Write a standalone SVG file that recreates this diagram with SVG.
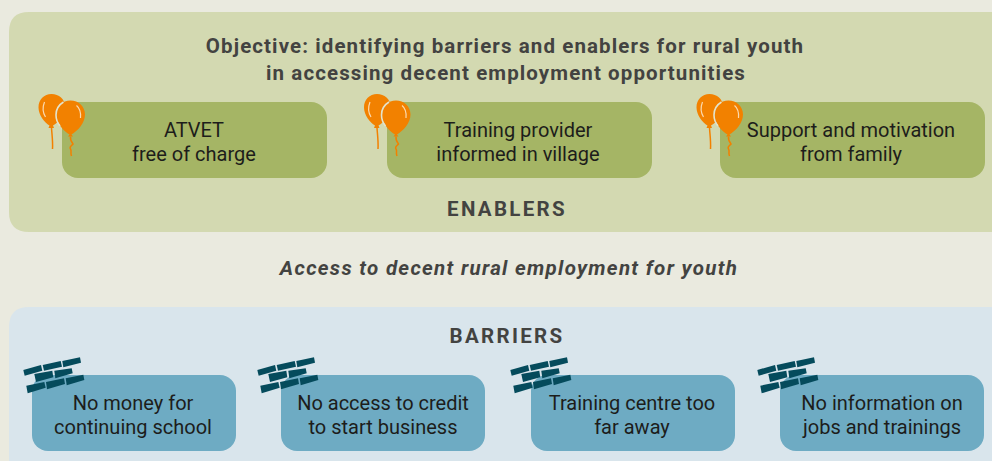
<svg xmlns="http://www.w3.org/2000/svg" width="992" height="461" viewBox="0 0 992 461">
<style>
text{font-family:"Roboto","Liberation Sans",sans-serif;text-anchor:middle;fill:#1d1d1b;font-size:20px}
.h{font-weight:700;fill:#434341;font-size:20.5px;letter-spacing:1.1px}
.c{letter-spacing:2.3px}
.a{font-style:italic;letter-spacing:1.3px}
.b1{fill:#a5b565}
.b2{fill:#6eabc3}
.o{fill:#f28100}
.ol{fill:none;stroke:#f28100;stroke-width:1.5}
.hl{fill:none;stroke:#fbd9ae;stroke-width:1.2}
.sep{fill:none;stroke:#e3e3cc;stroke-width:1.6}
.br{fill:#054b5c}
</style>
<defs>
<g id="balloons">
<path class="o" d="M12 0C4.600 0-1 5.500-1 13.500C-1 21 5 28.500 10 31.500L9 34L14.500 34L13.500 31.500C20 28 25.500 20 25.500 13C25.500 5 19.500 0 12 0Z"/>
<path class="ol" d="M12 34C12.500 41 13.500 48 13 55"/>
<path class="hl" d="M5 8C3 13 3.500 19 6 23"/>
<path class="o" d="M31 6.500C23 6.500 17 12.500 17 21C17 29.500 25 38 30 40.500L28.500 42.500L33.500 42.500L32 40.500C38 37 45.500 29 45.500 20.500C45.500 12.500 39 6.500 31 6.500Z"/>
<path class="sep" d="M24 8C19 11 16.500 16 16.500 21C16.500 25 18 29 20.500 32"/>
<path class="ol" d="M31 42.500C30.500 46 32 48 33.500 50C32 52 29.500 52.500 31 55C32.500 57 30.500 58 32 62"/>
<path class="hl" d="M37 11.500C40 14 41.500 19 41 24"/>
</g>
<g id="wall" class="br">
<path d="M.3 12L18 7L19.300 12.700L1.700 17.700Z"/>
<path d="M19.700 7L37.700 3L39 8.700L21 12.700Z"/>
<path d="M39.300 3L57-.7L58 4.700L40.300 9.300Z"/>
<path d="M11.300 16L29.300 12.700L30.300 19.300L13 24Z"/>
<path d="M31.300 12.700L48.700 10.300L49.700 15.300L32.300 20.300Z"/>
<path d="M3.300 27.700L21.300 24L22.700 29.700L4.700 35.300Z"/>
<path d="M23 24L41 20.300L42 26L24 31.300Z"/>
<path d="M42.700 20.300L60.300 16.700L61.300 22L43.700 27.300Z"/>
</g>
</defs>
<rect width="992" height="461" fill="#eaeadf"/>
<g id="connectors"></g>
<g id="enablers-panel">
<path d="M29 12H992V232H29Q9 232 9 212V32Q9 12 29 12Z" fill="#d3d9b1"/>
<text class="h" x="505" y="53">Objective: identifying barriers and enablers for rural youth</text>
<text class="h" x="506" y="80">in accessing decent employment opportunities</text>
<text class="h c" x="507" y="216">ENABLERS</text>
</g>
<g id="enabler-1">
<rect class="b1" x="62" y="102" width="265" height="76" rx="16"/>
<use href="#balloons" x="39.500" y="94"/>
<text x="194" y="137">ATVET</text><text x="194" y="161">free of charge</text>
</g>
<g id="enabler-2">
<rect class="b1" x="387" y="102" width="265" height="76" rx="16"/>
<use href="#balloons" x="365" y="94"/>
<text x="518" y="137">Training provider</text><text x="518" y="161">informed in village</text>
</g>
<g id="enabler-3">
<rect class="b1" x="720" y="102" width="265" height="76" rx="16"/>
<use href="#balloons" x="697.500" y="94"/>
<text x="851" y="137">Support and motivation</text><text x="851" y="161">from family</text>
</g>
<g id="access-label">
<text class="h a" x="509" y="275">Access to decent rural employment for youth</text>
</g>
<g id="barriers-panel">
<path d="M29 307H992V461H9V327Q9 307 29 307Z" fill="#d9e5ec"/>
<text class="h c" x="507" y="343">BARRIERS</text>
</g>
<g id="barrier-1">
<rect class="b2" x="32" y="375" width="204" height="76" rx="16"/>
<use href="#wall" x="23" y="358"/>
<text x="133" y="410">No money for</text><text x="133" y="434">continuing school</text>
</g>
<g id="barrier-2">
<rect class="b2" x="281" y="375" width="204" height="76" rx="16"/>
<use href="#wall" x="257" y="358"/>
<text x="383" y="410">No access to credit</text><text x="383" y="434">to start business</text>
</g>
<g id="barrier-3">
<rect class="b2" x="531" y="375" width="204" height="76" rx="16"/>
<use href="#wall" x="510" y="358"/>
<text x="632" y="410">Training centre too</text><text x="632" y="434">far away</text>
</g>
<g id="barrier-4">
<rect class="b2" x="780" y="375" width="204" height="76" rx="16"/>
<use href="#wall" x="757" y="358"/>
<text x="882" y="410">No information on</text><text x="882" y="434">jobs and trainings</text>
</g>
</svg>
